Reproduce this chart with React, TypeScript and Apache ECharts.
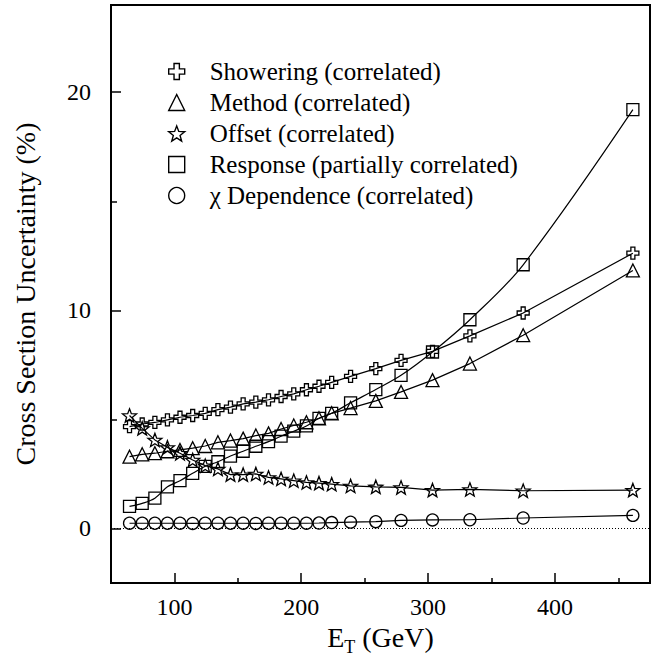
import React, { useEffect, useRef } from "react";
import * as echarts from "echarts";

const ET = [64.6, 74.6, 84.6, 94.5, 104.4, 114.4, 124.3, 134.3, 144.2, 154.2, 164.2, 174.2, 184.1, 194.1, 204.1, 214.0, 224.0, 238.9, 258.8, 278.7, 303.5, 333.0, 375.0, 461.5];
const SHOWERING = [4.67, 4.79, 4.86, 4.98, 5.10, 5.18, 5.28, 5.45, 5.56, 5.71, 5.79, 5.90, 6.05, 6.17, 6.36, 6.52, 6.70, 6.97, 7.33, 7.71, 8.12, 8.83, 9.88, 12.62];
const METHOD = [3.29, 3.40, 3.45, 3.54, 3.60, 3.68, 3.78, 3.95, 4.03, 4.12, 4.26, 4.36, 4.56, 4.72, 4.87, 5.05, 5.28, 5.52, 5.85, 6.26, 6.80, 7.56, 8.86, 11.83];
const OFFSET = [5.18, 4.59, 4.06, 3.72, 3.45, 3.14, 2.88, 2.73, 2.47, 2.47, 2.50, 2.34, 2.27, 2.19, 2.11, 2.08, 2.03, 1.95, 1.91, 1.88, 1.76, 1.79, 1.73, 1.76];
const RESPONSE = [1.01, 1.15, 1.39, 1.91, 2.19, 2.53, 2.85, 3.06, 3.32, 3.54, 3.77, 3.98, 4.23, 4.46, 4.70, 5.05, 5.28, 5.76, 6.37, 7.02, 8.09, 9.57, 12.09, 19.2];
const CHI = [0.24, 0.24, 0.24, 0.24, 0.24, 0.23, 0.24, 0.24, 0.24, 0.24, 0.23, 0.24, 0.24, 0.24, 0.24, 0.25, 0.27, 0.29, 0.31, 0.37, 0.39, 0.40, 0.48, 0.60];

const SERIES_NAMES = [
  "Showering (correlated)",
  "Method (correlated)",
  "Offset (correlated)",
  "Response (partially correlated)",
  "χ Dependence (correlated)",
];

const X_MAJOR = [100, 200, 300, 400];
const X_MINOR = [150, 250, 350, 450];
const Y_MAJOR = [0, 10, 20];
const Y_MINOR = [5, 15];

const FONT = "Liberation Serif";
const CROSS = "path://M4,0H8V4H12V8H8V12H4V8H0V4H4Z";
const STAR = "path://M10,0L12.47,6.6L19.51,6.91L13.99,11.3L15.88,18.09L10,14.2L4.12,18.09L6.01,11.3L0.49,6.91L7.53,6.6Z";
const SYMBOLS = [CROSS, "triangle", STAR, "rect", "circle"];
const SIZES = [12, 13, 14, 12, 12];

export default function App() {
  const ref = useRef<HTMLDivElement>(null);
  useEffect(() => {
    if (!ref.current) return;
    const chart = echarts.init(ref.current, null, { renderer: "svg" });
    const datasets = [SHOWERING, METHOD, OFFSET, RESPONSE, CHI];
    const series: any[] = datasets.map((arr, k) => ({
      name: SERIES_NAMES[k],
      type: "line",
      xAxisIndex: 0,
      yAxisIndex: 0,
      data: ET.map((x, i) => [x, arr[i]]),
      symbol: SYMBOLS[k],
      symbolSize: SIZES[k],
      symbolKeepAspect: true,
      showAllSymbol: true,
      smooth: k === 3 ? 0.35 : false,
      lineStyle: { color: "#000", width: 1.2 },
      itemStyle: { color: "rgba(0,0,0,0)", borderColor: "#000", borderWidth: 1.3 },
      emphasis: { disabled: true },
      z: 3,
    }));
    series[4].markLine = {
      silent: true,
      symbol: "none",
      label: { show: false },
      lineStyle: { color: "#000", type: [1, 2], width: 1 },
      data: [{ yAxis: 0 }],
    };
    const axisFont = { fontFamily: FONT, fontSize: 24, color: "#000" };
    chart.setOption({
      animation: false,
      backgroundColor: "#fff",
      grid: {
        left: 111,
        right: 7,
        top: 5,
        bottom: 83,
        show: true,
        borderColor: "#000",
        borderWidth: 2,
      },
      legend: {
        orient: "vertical",
        left: 163,
        top: 54,
        itemWidth: 16,
        itemHeight: 16,
        itemGap: 6,
        selectedMode: false,
        itemStyle: { color: "rgba(0,0,0,0)", borderColor: "#000", borderWidth: 1.4 },
        textStyle: { fontFamily: FONT, fontSize: 25, color: "#000", padding: [0, 0, 0, 20] },
        data: SERIES_NAMES.map((n, k) => ({ name: n, icon: SYMBOLS[k] })),
      },
      xAxis: [
        {
          type: "value",
          min: 50,
          max: 475,
          position: "bottom",
          axisLine: { show: true, onZero: false, lineStyle: { color: "#000", width: 2 } },
          axisTick: { show: true, inside: true, length: 10, customValues: X_MAJOR, lineStyle: { color: "#000", width: 1.5 } },
          axisLabel: { ...axisFont, margin: 12, customValues: X_MAJOR },
          splitLine: { show: false },
          name: "{e|E}{t|T}{e| (GeV)}",
          nameLocation: "middle",
          nameGap: 38,
          nameTextStyle: {
            fontFamily: FONT,
            fontSize: 28,
            color: "#000",
            rich: {
              e: { fontFamily: FONT, fontSize: 28, color: "#000", verticalAlign: "top" },
              t: { fontFamily: FONT, fontSize: 18, color: "#000", verticalAlign: "bottom", padding: [14, 0, 0, 0] },
            },
          },
        },
        {
          type: "value",
          min: 50,
          max: 475,
          position: "bottom",
          axisLine: { show: false, onZero: false },
          axisTick: { show: true, inside: true, length: 5, customValues: X_MINOR, lineStyle: { color: "#000", width: 1.5 } },
          axisLabel: { show: false },
          splitLine: { show: false },
        },
      ],
      yAxis: [
        {
          type: "value",
          min: -2.5,
          max: 24,
          position: "left",
          axisLine: { show: true, onZero: false, lineStyle: { color: "#000", width: 2 } },
          axisTick: { show: true, inside: true, length: 10, customValues: Y_MAJOR, lineStyle: { color: "#000", width: 1.5 } },
          axisLabel: { ...axisFont, margin: 20, customValues: Y_MAJOR },
          splitLine: { show: false },
          name: "Cross Section Uncertainty (%)",
          nameLocation: "middle",
          nameGap: 72,
          nameTextStyle: { fontFamily: FONT, fontSize: 28, color: "#000" },
        },
        {
          type: "value",
          min: -2.5,
          max: 24,
          position: "left",
          axisLine: { show: false, onZero: false },
          axisTick: { show: true, inside: true, length: 6, customValues: Y_MINOR, lineStyle: { color: "#000", width: 1.5 } },
          axisLabel: { show: false },
          splitLine: { show: false },
        },
      ],
      series,
    });
    return () => chart.dispose();
  }, []);
  return (
    <div
      ref={ref}
      style={{ position: "fixed", left: 0, top: 0, width: 657, height: 666, background: "#fff" }}
    />
  );
}
